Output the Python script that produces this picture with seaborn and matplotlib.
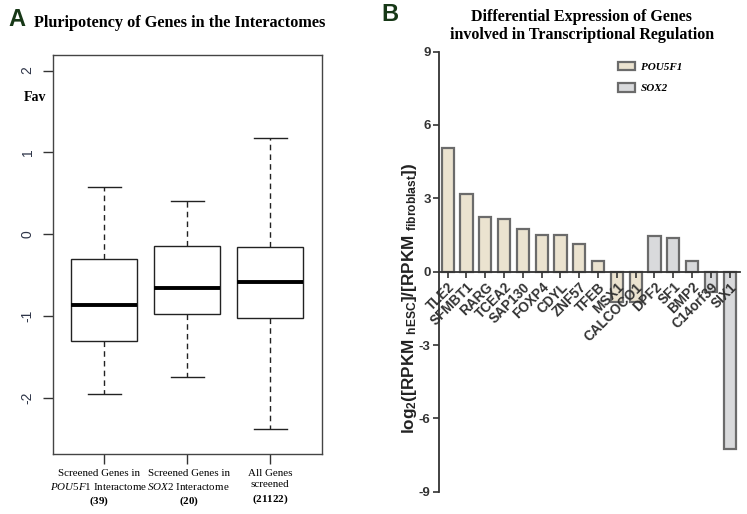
import matplotlib
matplotlib.use("Agg")
import matplotlib.pyplot as plt
import pandas as pd
import seaborn as sns
from matplotlib.font_manager import FontProperties

# Panel A: five-number summaries (min, Q1, median, Q3, max)
groups = ["POU5F1", "SOX2", "All"]
pou5f1_vals = [-1.95, -1.31, -0.87, -0.31, 0.575]
sox2_vals = [-1.75, -0.98, -0.66, -0.15, 0.40]
all_vals = [-2.39, -1.03, -0.59, -0.16, 1.175]
group_labels = [
    "Screened Genes in\n$\\mathit{POU5F1}$ Interactome\n$\\mathbf{(39)}$",
    "Screened Genes in\n$\\mathit{SOX2}$ Interactome\n$\\mathbf{(20)}$",
    "All Genes\nscreened\n$\\mathbf{(21122)}$",
]
label_shift = [-4, 1, 0]  # points, nudges the crowded labels apart

# Panel B: log2 fold change per gene
genes = ["TLE2", "SFMBT1", "RARG", "TCEA2", "SAP130", "FOXP4", "CDYL", "ZNF57",
         "TFEB", "MSX1", "CALCOCO1", "DPF2", "SF1", "BMP2", "C14orf39", "SIX1"]
log2fc = [5.05, 3.18, 2.22, 2.14, 1.73, 1.51, 1.51, 1.15,
          0.42, -1.25, -1.25, 1.46, 1.39, 0.43, -0.82, -7.27]
interactome = ["POU5F1"] * 11 + ["SOX2"] * 5

plt.rcParams["mathtext.fontset"] = "custom"
plt.rcParams["mathtext.rm"] = "Liberation Serif"
plt.rcParams["mathtext.it"] = "Liberation Serif:italic"
plt.rcParams["mathtext.bf"] = "Liberation Serif:bold"
plt.rcParams["mathtext.default"] = "regular"

fig = plt.figure(figsize=(7.47, 5.14), dpi=100)

# ---------------- Panel A ----------------
box_df = pd.DataFrame({
    "group": [g for g, v in zip(groups, [pou5f1_vals, sox2_vals, all_vals]) for _ in v],
    "Fav": pou5f1_vals + sox2_vals + all_vals,
})

axA = fig.add_axes([0.0705, 0.1167, 0.360, 0.7763])
sns.boxplot(
    data=box_df, x="group", y="Fav", ax=axA, order=groups,
    whis=(0, 100), width=0.8, color="white", linecolor="black", linewidth=1,
    fill=True, showfliers=False,
    boxprops=dict(facecolor="white", edgecolor="#222222", linewidth=1),
    whiskerprops=dict(linestyle=(0, (4, 3)), color="#222222", linewidth=1),
    capprops=dict(color="#222222", linewidth=1),
    medianprops=dict(color="black", linewidth=2.8),
)
axA.set_xlim(-0.62, 2.62)
axA.set_ylim(-2.69, 2.19)
axA.set_yticks([-2, -1, 0, 1, 2])
axA.set_yticklabels(["-2", "-1", "0", "1", "2"], rotation=90, va="center",
                    family="Liberation Sans", fontsize=10, color="#2e3548")
axA.set_xticks([0, 1, 2])
axA.set_xticklabels([])
axA.tick_params(axis="both", direction="out", length=7, width=1, color="#333333", pad=6)
for i, lab in enumerate(group_labels):
    axA.annotate(lab, xy=(i, 0), xycoords=axA.get_xaxis_transform(),
                 xytext=(label_shift[i], -10.5), textcoords="offset points",
                 ha="center", va="top", family="Liberation Serif", fontsize=7.9,
                 linespacing=1.35, annotation_clip=False)
axA.set_xlabel("")
axA.set_ylabel("")
for s in axA.spines.values():
    s.set_color("#444444")
    s.set_linewidth(1)

fig.text(0.011, 0.962, "A", fontsize=17, fontweight="bold", family="Liberation Sans",
         color="#173817", va="center")
fig.text(0.240, 0.955, "Pluripotency of Genes in the Interactomes", fontsize=11.7,
         fontweight="bold", family="Liberation Serif", ha="center", va="center")
fig.text(0.032, 0.811, "Fav", fontsize=10, fontweight="bold", family="Liberation Serif",
         va="center")

# ---------------- Panel B ----------------
bar_df = pd.DataFrame({"gene": genes, "log2fc": log2fc, "interactome": interactome})

axB = fig.add_axes([0.5877, 0.0432, 0.4029, 0.8564])
sns.barplot(
    data=bar_df, x="gene", y="log2fc", hue="interactome", order=genes,
    hue_order=["POU5F1", "SOX2"], palette={"POU5F1": "#efe5cb", "SOX2": "#d9dadc"},
    dodge=False, width=0.65, edgecolor="#6b6b6b", linewidth=1.6, ax=axB,
)
axB.set_xlim(-0.46, 15.55)
axB.set_ylim(-9, 9)
axB.set_yticks([-9, -6, -3, 0, 3, 6, 9])
axB.set_yticklabels(["-9", "-6", "-3", "0", "3", "6", "9"], family="Liberation Sans",
                    fontweight="bold", fontsize=9.5, color="#333333")
axB.spines["top"].set_visible(False)
axB.spines["right"].set_visible(False)
axB.spines["bottom"].set_position(("data", 0))
axB.spines["left"].set_bounds(-9, 9)
for s in ["left", "bottom"]:
    axB.spines[s].set_color("#333333")
    axB.spines[s].set_linewidth(1.3)
axB.tick_params(axis="y", direction="out", length=4, width=1.2, color="#333333", pad=2)
axB.tick_params(axis="x", direction="out", length=4, width=1.2, color="#333333", pad=2)
for lbl in axB.get_xticklabels():
    lbl.set_rotation(45)
    lbl.set_ha("right")
    lbl.set_rotation_mode("anchor")
    lbl.set_family("Liberation Sans")
    lbl.set_fontweight("bold")
    lbl.set_fontsize(9.8)
    lbl.set_color("#333333")
axB.set_xlabel("")
axB.set_ylabel(
    "log$_{2}$([RPKM $_{hESC}$]/[RPKM $_{fibroblast}$])",
    family="Liberation Sans", fontweight="bold", fontsize=12.3, color="#222222",
)
axB.yaxis.set_label_coords(-0.068, 0.44)

leg = axB.legend(
    loc="upper left", bbox_to_anchor=(0.56, 1.0), frameon=False,
    prop=FontProperties(family="Liberation Serif", style="italic", weight="bold", size=8),
    handlelength=1.6, handleheight=0.85, handletextpad=0.5, labelspacing=1.0,
)

fig.text(0.511, 0.972, "B", fontsize=17, fontweight="bold", family="Liberation Sans",
         color="#173817", va="center")
fig.text(0.779, 0.950, "Differential Expression of Genes\ninvolved in Transcriptional Regulation",
         fontsize=11.5, fontweight="bold", family="Liberation Serif", ha="center",
         va="center", linespacing=1.2)

fig.savefig("out.png", dpi=100)
